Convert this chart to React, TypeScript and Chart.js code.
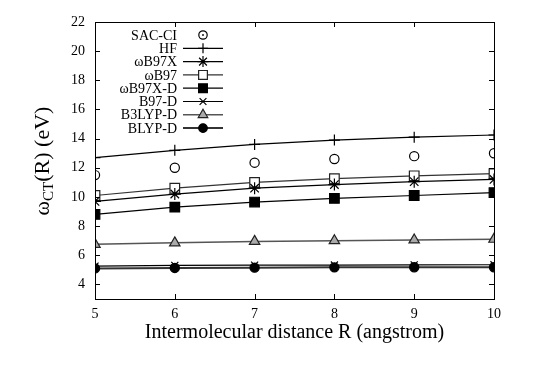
import React, { useEffect, useRef } from "react";
import { Chart, registerables } from "chart.js";
import { drawPoint } from "chart.js/helpers";
Chart.register(...registerables);

const distances = [5, 6, 7, 8, 9, 10];
const sacci = [11.5, 12.0, 12.35, 12.6, 12.8, 13.0];
const hf = [12.7, 13.2, 13.6, 13.9, 14.1, 14.25];
const wb97x = [9.7, 10.2, 10.6, 10.85, 11.05, 11.2];
const wb97 = [10.1, 10.6, 11.0, 11.25, 11.45, 11.6];
const wb97xd = [8.8, 9.3, 9.65, 9.9, 10.1, 10.3];
const b97d = [5.25, 5.3, 5.32, 5.33, 5.34, 5.35];
const b3lypd = [6.75, 6.85, 6.95, 7.0, 7.05, 7.1];
const blypd = [5.1, 5.13, 5.15, 5.17, 5.18, 5.18];
const yTickValues = [4, 6, 8, 10, 12, 14, 16, 18, 20, 22];
const xTickValues = [5, 6, 7, 8, 9, 10];

const FONT = "'Liberation Serif', 'DejaVu Serif', serif";

const pts = (arr: number[]) => arr.map((y, i) => ({ x: distances[i], y }));

type Entry = {
  label: string;
  data: number[];
  style: any;
  radius: number;
  legendRadius: number;
  line: string | null;
  pointColor: string;
  fill: string;
  lineWidth: number;
};

const entries: Entry[] = [
  { label: "SAC-CI", data: sacci, style: "circle", radius: 4.6, legendRadius: 4.2, line: null, pointColor: "#000", fill: "#fff", lineWidth: 1 },
  { label: "HF", data: hf, style: "cross", radius: 5.5, legendRadius: 5, line: "#000", pointColor: "#000", fill: "#000", lineWidth: 1.2 },
  { label: "ωB97X", data: wb97x, style: "star", radius: 6, legendRadius: 5.5, line: "#000", pointColor: "#000", fill: "#000", lineWidth: 1.2 },
  { label: "ωB97", data: wb97, style: "rect", radius: 6.8, legendRadius: 6.2, line: "#333", pointColor: "#222", fill: "#fff", lineWidth: 1.2 },
  { label: "ωB97X-D", data: wb97xd, style: "rect", radius: 6.8, legendRadius: 6.2, line: "#000", pointColor: "#000", fill: "#000", lineWidth: 1.2 },
  { label: "B97-D", data: b97d, style: "crossRot", radius: 5, legendRadius: 4.8, line: "#000", pointColor: "#000", fill: "#000", lineWidth: 1.2 },
  { label: "B3LYP-D", data: b3lypd, style: "triangle", radius: 6, legendRadius: 5.5, line: "#555", pointColor: "#222", fill: "#aaa", lineWidth: 1.5 },
  { label: "BLYP-D", data: blypd, style: "circle", radius: 4.6, legendRadius: 4.3, line: "#333", pointColor: "#000", fill: "#000", lineWidth: 2 },
];

const decorPlugin = {
  id: "decor",
  afterDraw(chart: any) {
    const ctx = chart.ctx;
    const { left, right, top, bottom } = chart.chartArea;
    const xs = chart.scales.x;
    const ys = chart.scales.y;
    ctx.save();
    // frame
    ctx.strokeStyle = "#000";
    ctx.lineWidth = 1;
    ctx.strokeRect(left + 0.5, top + 0.5, right - left, bottom - top);
    // inward ticks
    const tl = 5;
    ctx.beginPath();
    yTickValues.forEach((v) => {
      const p = Math.round(ys.getPixelForValue(v)) + 0.5;
      ctx.moveTo(left, p); ctx.lineTo(left + tl, p);
      ctx.moveTo(right, p); ctx.lineTo(right - tl, p);
    });
    xTickValues.forEach((v) => {
      const p = Math.round(xs.getPixelForValue(v)) + 0.5;
      ctx.moveTo(p, bottom); ctx.lineTo(p, bottom - tl);
      ctx.moveTo(p, top); ctx.lineTo(p, top + tl);
    });
    ctx.stroke();

    // legend
    const textRight = 177;
    const lineX0 = 183, lineX1 = 223, markX = 203;
    const rowY0 = 35, rowH = 13.3;
    ctx.font = `14px ${FONT}`;
    ctx.textAlign = "right";
    ctx.textBaseline = "middle";
    entries.forEach((e, i) => {
      const y = rowY0 + i * rowH;
      ctx.fillStyle = "#000";
      ctx.fillText(e.label, textRight, y + 1);
      if (e.line) {
        ctx.strokeStyle = e.line;
        ctx.lineWidth = e.lineWidth;
        ctx.beginPath();
        ctx.moveTo(lineX0, y); ctx.lineTo(lineX1, y);
        ctx.stroke();
      }
      ctx.strokeStyle = e.pointColor;
      ctx.fillStyle = e.fill;
      ctx.lineWidth = 1.2;
      drawPoint(ctx, { pointStyle: e.style, radius: e.legendRadius, rotation: 0, borderWidth: 1.2 } as any, markX, y);
      if (i === 0) {
        ctx.fillStyle = "#000";
        ctx.beginPath(); ctx.arc(markX, y, 0.9, 0, Math.PI * 2); ctx.fill();
      }
    });

    // axis titles
    ctx.fillStyle = "#000";
    ctx.textAlign = "center";
    ctx.textBaseline = "middle";
    ctx.font = `20px ${FONT}`;
    ctx.fillText("Intermolecular distance R (angstrom)", (left + right) / 2, 333);

    ctx.translate(43, 161);
    ctx.rotate(-Math.PI / 2);
    const big = `22px ${FONT}`;
    const small = `15px ${FONT}`;
    const parts = [
      { t: "ω", f: big, dy: 0 },
      { t: "CT", f: small, dy: 6 },
      { t: "(R) (eV)", f: big, dy: 0 },
    ];
    let total = 0;
    parts.forEach((p) => { ctx.font = p.f; total += ctx.measureText(p.t).width; });
    let cx = -total / 2;
    ctx.textAlign = "left";
    parts.forEach((p) => {
      ctx.font = p.f;
      ctx.fillText(p.t, cx, p.dy);
      cx += ctx.measureText(p.t).width;
    });
    ctx.restore();
  },
};

export default function App() {
  const ref = useRef<HTMLCanvasElement>(null);
  useEffect(() => {
    document.body.style.margin = "0";
    const datasets: any[] = entries.map((e) => ({
      label: e.label,
      data: pts(e.data),
      showLine: !!e.line,
      borderColor: e.line || e.pointColor,
      borderWidth: e.lineWidth,
      pointStyle: e.style,
      pointRadius: e.radius,
      pointBorderColor: e.pointColor,
      pointBackgroundColor: e.fill,
      pointBorderWidth: 1.2,
      pointHoverRadius: e.radius,
    }));
    datasets.push({
      label: "SAC-CI center",
      data: pts(sacci),
      showLine: false,
      pointStyle: "circle",
      pointRadius: 0.9,
      pointBorderWidth: 0,
      pointBackgroundColor: "#000",
    });
    const chart = new Chart(ref.current!, {
      type: "scatter",
      data: { datasets },
      options: {
        animation: false,
        responsive: false,
        devicePixelRatio: 1,
        layout: { padding: { top: 22, right: 65, left: 0, bottom: 0 } },
        plugins: { legend: { display: false }, tooltip: { enabled: false } },
        scales: {
          x: {
            type: "linear",
            min: 5,
            max: 10,
            afterBuildTicks: (s: any) => { s.ticks = xTickValues.map((v) => ({ value: v })); },
            afterFit: (s: any) => { s.height = 68; },
            grid: { display: false, drawTicks: false },
            border: { display: false },
            ticks: { color: "#000", font: { family: FONT, size: 14 }, padding: 7, maxRotation: 0 },
          },
          y: {
            type: "linear",
            min: 3,
            max: 22,
            afterBuildTicks: (s: any) => { s.ticks = yTickValues.map((v) => ({ value: v })); },
            afterFit: (s: any) => { s.width = 95; },
            grid: { display: false, drawTicks: false },
            border: { display: false },
            ticks: { color: "#000", font: { family: FONT, size: 14 }, padding: 10 },
          },
        },
      },
      plugins: [decorPlugin],
    });
    return () => chart.destroy();
  }, []);
  return (
    <div style={{ position: "fixed", left: 0, top: 0, width: 559, height: 367, background: "#fff" }}>
      <canvas ref={ref} width={559} height={367} />
    </div>
  );
}
